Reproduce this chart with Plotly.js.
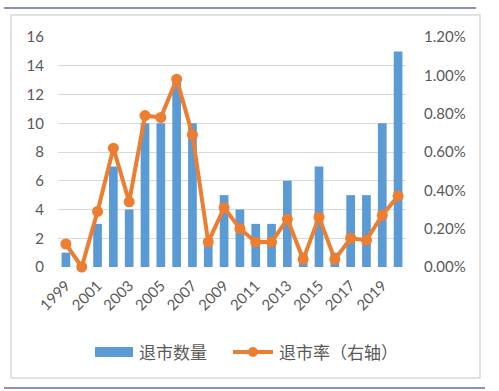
<!DOCTYPE html>
<html>
<head>
<meta charset="utf-8">
<script src="https://cdn.plot.ly/plotly-3.0.1.min.js"></script>
<style>
html,body{margin:0;padding:0;background:#fff;}
#chart{width:499px;height:391px;}
</style>
</head>
<body>
<div id="chart"></div>
<script>
const years = ['1999','2000','2001','2002','2003','2004','2005','2006','2007','2008','2009','2010','2011','2012','2013','2014','2015','2016','2017','2018','2019','2020'];
const delistCount = [1,0,3,7,4,10,10,13,10,2,5,4,3,3,6,1,7,1,5,5,10,15];
const delistRate = [0.0012,0.0,0.0029,0.0062,0.0034,0.0079,0.0078,0.0098,0.0069,0.0013,0.0031,0.0020,0.0013,0.0013,0.0025,0.0004,0.0026,0.0004,0.0015,0.0014,0.0027,0.0037];
const tickYears = ['1999','2001','2003','2005','2007','2009','2011','2013','2015','2017','2019'];
const seriesNames = ['退市数量','退市率（右轴）'];

const W = 499, H = 391;
const M = {l:58, r:93, t:37, b:124};
const pw = W - M.l - M.r, ph = H - M.t - M.b;
const px = x => (x - M.l) / pw;
const py = y => (H - M.b - y) / ph;

const gray = '#595959';
const blue = '#5B9BD5';
const orange = '#ED7D31';
const tickFont = {family:'Lato, "Noto Sans", sans-serif', size:15, color:gray};
const cjkFont = {family:'"Noto Sans CJK SC", sans-serif', size:17, color:gray};

const traces = [
  {type:'bar', x:years, y:delistCount, name:seriesNames[0], marker:{color:blue}, yaxis:'y', showlegend:false, hoverinfo:'x+y'},
  {type:'scatter', mode:'lines+markers', x:years, y:delistRate, name:seriesNames[1], yaxis:'y2',
   line:{color:orange, width:4}, marker:{color:orange, size:11}, showlegend:false, cliponaxis:false}
];

const shapes = [
  {type:'rect', xref:'paper', yref:'paper', x0:px(11), x1:px(480), y0:py(15), y1:py(378), line:{color:'#D9D9D9', width:1.5}, layer:'below'},
  {type:'line', xref:'paper', yref:'paper', x0:px(4), x1:px(476), y0:py(8), y1:py(8), line:{color:'#8C90C8', width:2}},
  {type:'line', xref:'paper', yref:'paper', x0:px(4), x1:px(485), y0:py(388), y1:py(388), line:{color:'#8C90C8', width:2}},
  // legend keys
  {type:'rect', xref:'paper', yref:'paper', x0:px(95), x1:px(133), y0:py(357), y1:py(347), fillcolor:blue, line:{width:0}},
  {type:'line', xref:'paper', yref:'paper', x0:px(233), x1:px(273), y0:py(352), y1:py(352), line:{color:orange, width:4}},
  {type:'circle', xref:'paper', yref:'paper', x0:px(248), x1:px(258), y0:py(357), y1:py(347), fillcolor:orange, line:{width:0}}
];

const annotations = [
  {xref:'paper', yref:'paper', x:px(137), y:py(352), xanchor:'left', yanchor:'middle', text:seriesNames[0], showarrow:false, font:cjkFont},
  {xref:'paper', yref:'paper', x:px(277), y:py(352), xanchor:'left', yanchor:'middle', text:seriesNames[1], showarrow:false, font:cjkFont}
];

const layout = {
  width:W, height:H,
  margin:M,
  paper_bgcolor:'#fff', plot_bgcolor:'#fff',
  bargap:0.45,
  showlegend:false,
  xaxis:{type:'category', range:[-0.5, years.length - 0.5], tickmode:'array', tickvals:tickYears, ticktext:tickYears, tickangle:-45,
         tickfont:tickFont, showgrid:false, zeroline:false, showline:false, ticks:'', ticklabelstandoff:6, automargin:false},
  yaxis:{range:[0,16], dtick:2, tickfont:tickFont, gridcolor:'#D9D9D9', gridwidth:1, zeroline:false,
         showline:false, ticks:'', ticklabelstandoff:13, automargin:false},
  yaxis2:{range:[0,0.012], dtick:0.002, tickformat:'.2%', overlaying:'y', side:'right', showgrid:false,
          zeroline:false, showline:false, ticks:'', tickfont:tickFont, ticklabelstandoff:17, automargin:false},
  shapes:shapes,
  annotations:annotations
};

Plotly.newPlot('chart', traces, layout, {displayModeBar:false, staticPlot:true});
</script>
</body>
</html>
